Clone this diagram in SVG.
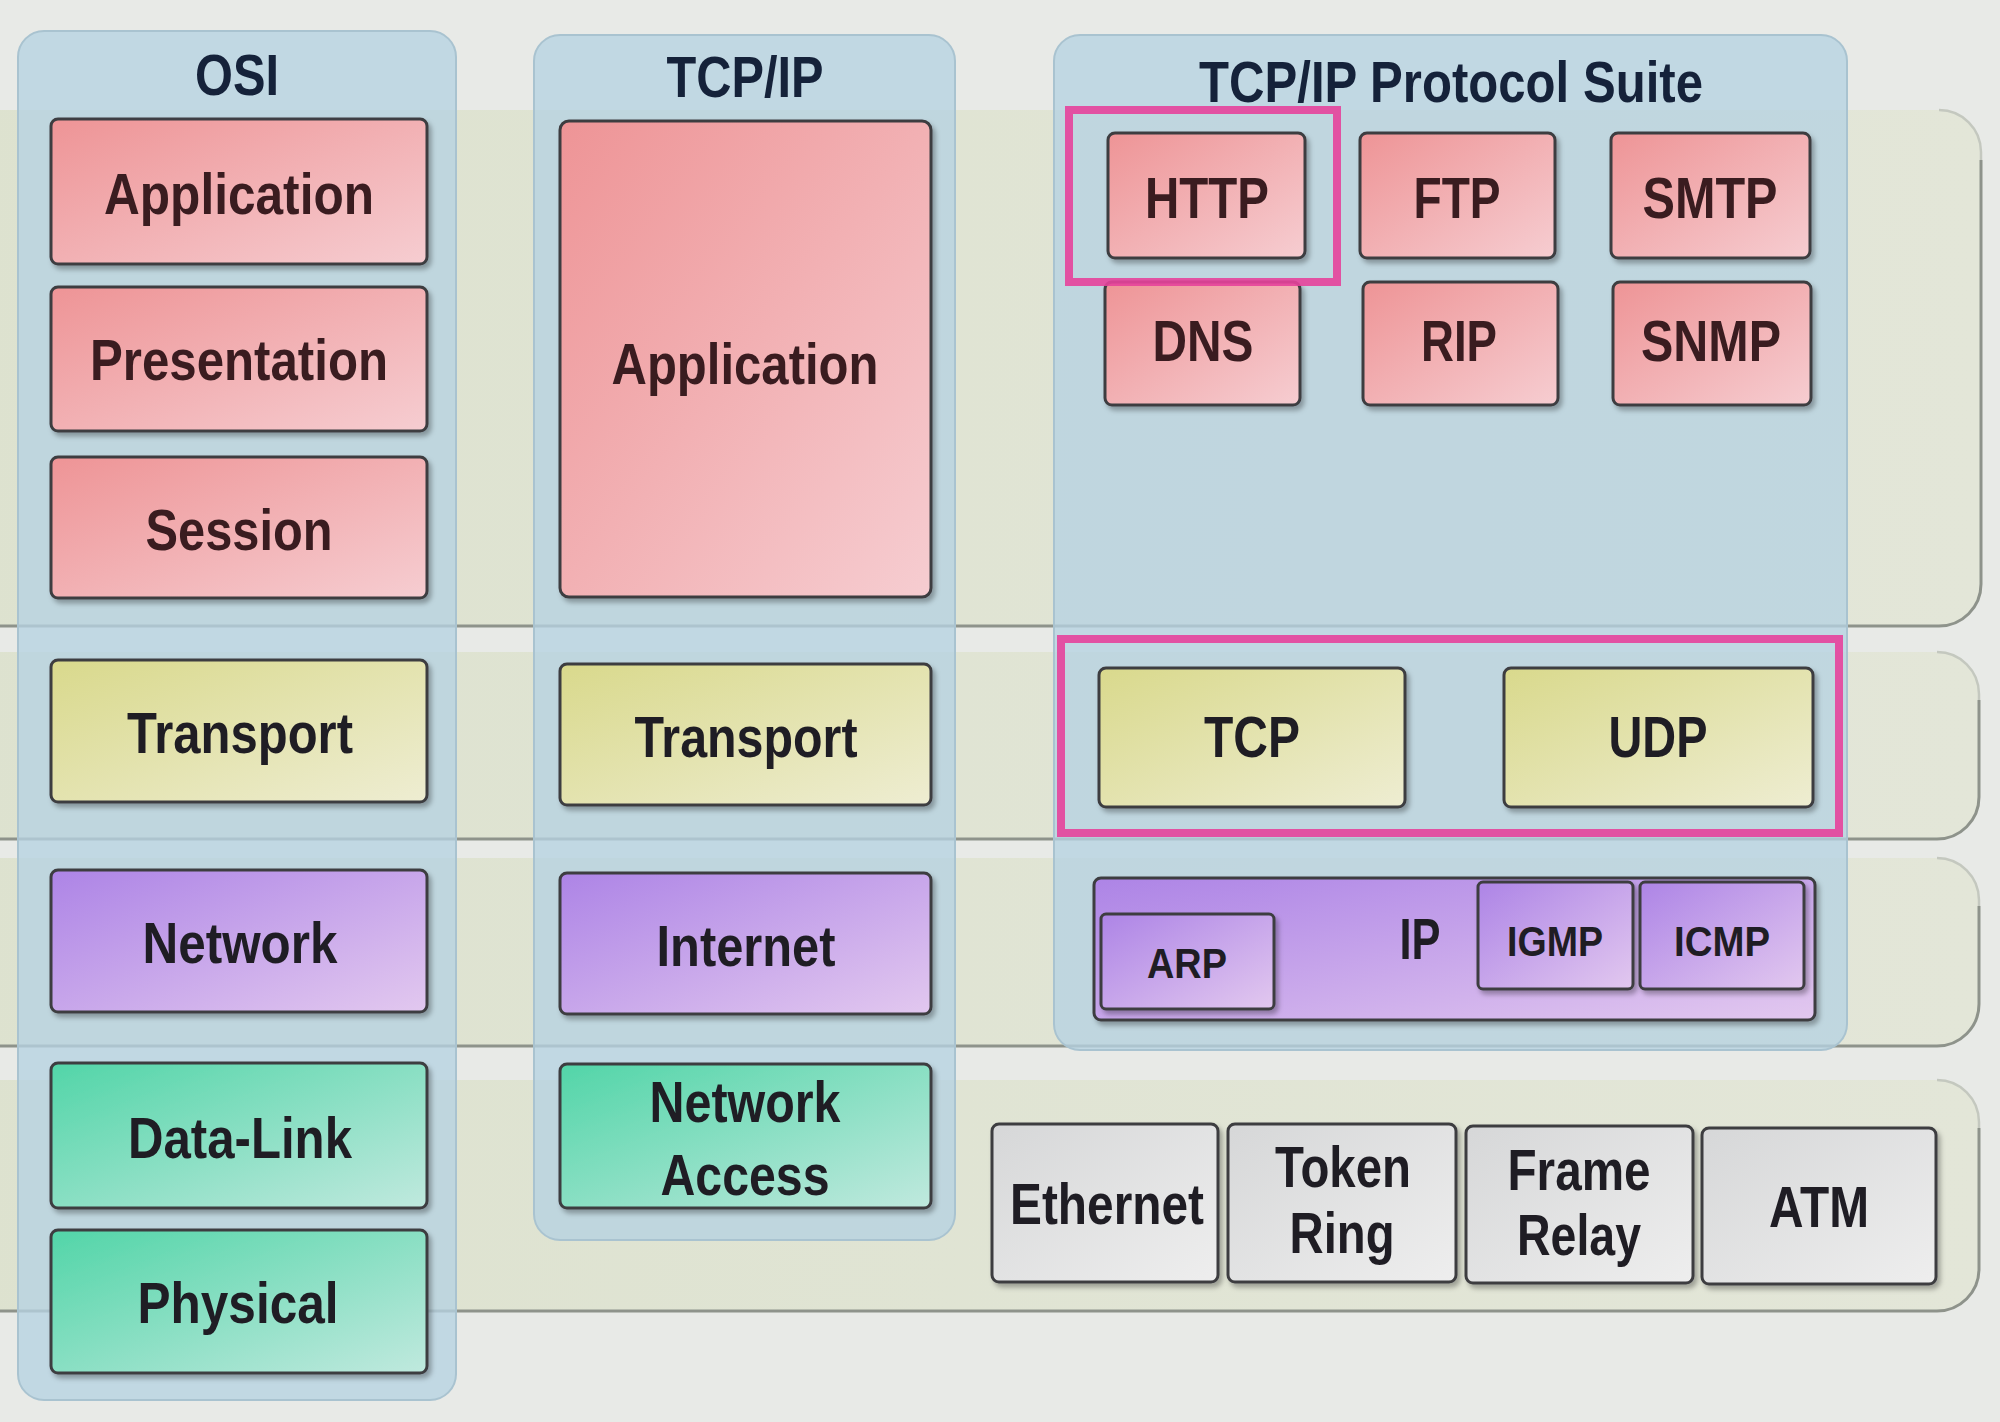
<svg xmlns="http://www.w3.org/2000/svg" width="2000" height="1422" viewBox="0 0 2000 1422">
<defs>
<linearGradient id="gRed" x1="0" y1="0" x2="1" y2="1"><stop offset="0" stop-color="#ee9496"/><stop offset="1" stop-color="#f6cdd1"/></linearGradient>
<linearGradient id="gYel" x1="0" y1="0" x2="1" y2="1"><stop offset="0" stop-color="#d9d98c"/><stop offset="1" stop-color="#eeedd2"/></linearGradient>
<linearGradient id="gPur" x1="0" y1="0" x2="1" y2="1"><stop offset="0" stop-color="#ad84e6"/><stop offset="1" stop-color="#e2c8ef"/></linearGradient>
<linearGradient id="gGrn" x1="0" y1="0" x2="1" y2="1"><stop offset="0" stop-color="#52d5a8"/><stop offset="1" stop-color="#c0e9de"/></linearGradient>
<linearGradient id="gGry" x1="0" y1="0" x2="1" y2="1"><stop offset="0" stop-color="#d6d7d8"/><stop offset="1" stop-color="#eeeeee"/></linearGradient>
<linearGradient id="gBand" x1="0" y1="0" x2="1" y2="0"><stop offset="0" stop-color="#dde2cf"/><stop offset="1" stop-color="#e3e6d8"/></linearGradient>
<filter id="sh" x="-10%" y="-10%" width="130%" height="130%"><feDropShadow dx="3" dy="4" stdDeviation="2.5" flood-color="#000" flood-opacity="0.3"/></filter>
</defs>
<style>
.band{fill:url(#gBand)}
.edge{fill:none;stroke:#8e938b;stroke-width:3}
.edge2{fill:none;stroke:#c4c8bf;stroke-width:2.5}
.panel{fill:#b6d2e2;fill-opacity:0.78;stroke:#a9c3d0;stroke-width:2}
.box{stroke:#3c3c40;stroke-width:3;filter:url(#sh)}
.red{fill:url(#gRed)}
.yel{fill:url(#gYel)}
.pur{fill:url(#gPur)}
.grn{fill:url(#gGrn)}
.gry{fill:url(#gGry)}
.hl{fill:none;stroke:#e6439b;stroke-width:8;stroke-opacity:0.9}
.t{font-family:"Liberation Sans",Arial,sans-serif;font-weight:bold;font-size:57px;fill:#1f1d24;text-anchor:middle}
.tr{fill:#3a1c20}
.ts{font-size:43px}
.ti{fill:#15223a}
</style>
<rect x="0" y="0" width="2000" height="1422" fill="#e8eae7"/>
<g id="bands">
<rect class="band" x="-60" y="110" width="2041" height="516" rx="42"/>
<path class="edge" d="M0 626 H1939 A42 42 0 0 0 1981 584 V160"/>
<path class="edge2" d="M1981 160 V152 A42 42 0 0 0 1939 110"/>
<rect class="band" x="-60" y="652" width="2039" height="187" rx="42"/>
<path class="edge" d="M0 839 H1937 A42 42 0 0 0 1979 797 V700"/>
<path class="edge2" d="M1979 700 V694 A42 42 0 0 0 1937 652"/>
<rect class="band" x="-60" y="858" width="2039" height="188" rx="42"/>
<path class="edge" d="M0 1046 H1937 A42 42 0 0 0 1979 1004 V906"/>
<path class="edge2" d="M1979 906 V900 A42 42 0 0 0 1937 858"/>
<rect class="band" x="-60" y="1080" width="2039" height="231" rx="42"/>
<path class="edge" d="M0 1311 H1937 A42 42 0 0 0 1979 1269 V1128"/>
<path class="edge2" d="M1979 1128 V1122 A42 42 0 0 0 1937 1080"/>
</g>
<g id="panel-osi"><rect class="panel" x="18" y="31" width="438" height="1369" rx="26"/><text class="t ti" x="237" y="95" textLength="84" lengthAdjust="spacingAndGlyphs">OSI</text></g>
<g id="panel-tcpip"><rect class="panel" x="534" y="35" width="421" height="1205" rx="26"/><text class="t ti" x="745" y="97" textLength="157" lengthAdjust="spacingAndGlyphs">TCP/IP</text></g>
<g id="panel-suite"><rect class="panel" x="1054" y="35" width="793" height="1015" rx="26"/><text class="t ti" x="1451" y="102" textLength="504" lengthAdjust="spacingAndGlyphs">TCP/IP Protocol Suite</text></g>

<g id="osi-application"><rect class="box red" x="51" y="119" width="376" height="145" rx="7"/><text class="t tr" x="239" y="214" textLength="270" lengthAdjust="spacingAndGlyphs">Application</text></g>
<g id="osi-presentation"><rect class="box red" x="51" y="287" width="376" height="144" rx="7"/><text class="t tr" x="239" y="380" textLength="298" lengthAdjust="spacingAndGlyphs">Presentation</text></g>
<g id="osi-session"><rect class="box red" x="51" y="457" width="376" height="141" rx="7"/><text class="t tr" x="239" y="550" textLength="187" lengthAdjust="spacingAndGlyphs">Session</text></g>
<g id="osi-transport"><rect class="box yel" x="51" y="660" width="376" height="142" rx="7"/><text class="t" x="240" y="753" textLength="226" lengthAdjust="spacingAndGlyphs">Transport</text></g>
<g id="osi-network"><rect class="box pur" x="51" y="870" width="376" height="142" rx="7"/><text class="t" x="240" y="963" textLength="195" lengthAdjust="spacingAndGlyphs">Network</text></g>
<g id="osi-datalink"><rect class="box grn" x="51" y="1063" width="376" height="145" rx="7"/><text class="t" x="240" y="1158" textLength="224" lengthAdjust="spacingAndGlyphs">Data-Link</text></g>
<g id="osi-physical"><rect class="box grn" x="51" y="1230" width="376" height="143" rx="7"/><text class="t" x="238" y="1323" textLength="201" lengthAdjust="spacingAndGlyphs">Physical</text></g>

<g id="tcpip-application"><rect class="box red" x="560" y="121" width="371" height="476" rx="9"/><text class="t tr" x="745" y="384" textLength="267" lengthAdjust="spacingAndGlyphs">Application</text></g>
<g id="tcpip-transport"><rect class="box yel" x="560" y="664" width="371" height="141" rx="7"/><text class="t" x="746" y="757" textLength="223" lengthAdjust="spacingAndGlyphs">Transport</text></g>
<g id="tcpip-internet"><rect class="box pur" x="560" y="873" width="371" height="141" rx="7"/><text class="t" x="746" y="966" textLength="179" lengthAdjust="spacingAndGlyphs">Internet</text></g>
<g id="tcpip-netaccess"><rect class="box grn" x="560" y="1064" width="371" height="144" rx="7"/><text class="t" x="745" y="1122" textLength="191" lengthAdjust="spacingAndGlyphs">Network</text><text class="t" x="745" y="1195" textLength="169" lengthAdjust="spacingAndGlyphs">Access</text></g>

<g id="http"><rect class="box red" x="1108" y="133" width="197" height="125" rx="7"/><text class="t tr" x="1207" y="218" textLength="124" lengthAdjust="spacingAndGlyphs">HTTP</text></g>
<g id="ftp"><rect class="box red" x="1360" y="133" width="195" height="125" rx="7"/><text class="t tr" x="1457" y="218" textLength="87" lengthAdjust="spacingAndGlyphs">FTP</text></g>
<g id="smtp"><rect class="box red" x="1611" y="133" width="199" height="125" rx="7"/><text class="t tr" x="1710" y="218" textLength="135" lengthAdjust="spacingAndGlyphs">SMTP</text></g>
<g id="dns"><rect class="box red" x="1105" y="282" width="195" height="123" rx="7"/><text class="t tr" x="1203" y="361" textLength="101" lengthAdjust="spacingAndGlyphs">DNS</text></g>
<g id="rip"><rect class="box red" x="1363" y="282" width="195" height="123" rx="7"/><text class="t tr" x="1459" y="361" textLength="76" lengthAdjust="spacingAndGlyphs">RIP</text></g>
<g id="snmp"><rect class="box red" x="1613" y="282" width="198" height="123" rx="7"/><text class="t tr" x="1711" y="361" textLength="140" lengthAdjust="spacingAndGlyphs">SNMP</text></g>
<g id="http-highlight"><rect class="hl" x="1069" y="110" width="268" height="172"/></g>

<g id="tcp"><rect class="box yel" x="1099" y="668" width="306" height="139" rx="7"/><text class="t" x="1252" y="757" textLength="96" lengthAdjust="spacingAndGlyphs">TCP</text></g>
<g id="udp"><rect class="box yel" x="1504" y="668" width="309" height="139" rx="7"/><text class="t" x="1658" y="757" textLength="99" lengthAdjust="spacingAndGlyphs">UDP</text></g>
<g id="transport-highlight"><rect class="hl" x="1061" y="639" width="778" height="194"/></g>

<g id="ip"><rect class="box pur" x="1094" y="878" width="721" height="142" rx="7"/><text class="t" x="1420" y="959" textLength="41" lengthAdjust="spacingAndGlyphs">IP</text></g>
<g id="arp"><rect class="box pur" x="1101" y="914" width="173" height="95" rx="5"/><text class="t ts" x="1187" y="978" textLength="80" lengthAdjust="spacingAndGlyphs">ARP</text></g>
<g id="igmp"><rect class="box pur" x="1478" y="882" width="155" height="107" rx="5"/><text class="t ts" x="1555" y="956" textLength="96" lengthAdjust="spacingAndGlyphs">IGMP</text></g>
<g id="icmp"><rect class="box pur" x="1640" y="882" width="164" height="107" rx="5"/><text class="t ts" x="1722" y="956" textLength="96" lengthAdjust="spacingAndGlyphs">ICMP</text></g>

<g id="ethernet"><rect class="box gry" x="992" y="1124" width="226" height="158" rx="7"/><text class="t" x="1107" y="1224" textLength="194" lengthAdjust="spacingAndGlyphs">Ethernet</text></g>
<g id="tokenring"><rect class="box gry" x="1228" y="1124" width="228" height="158" rx="7"/><text class="t" x="1343" y="1187" textLength="136" lengthAdjust="spacingAndGlyphs">Token</text><text class="t" x="1342" y="1253" textLength="105" lengthAdjust="spacingAndGlyphs">Ring</text></g>
<g id="framerelay"><rect class="box gry" x="1466" y="1126" width="227" height="157" rx="7"/><text class="t" x="1579" y="1190" textLength="143" lengthAdjust="spacingAndGlyphs">Frame</text><text class="t" x="1579" y="1255" textLength="124" lengthAdjust="spacingAndGlyphs">Relay</text></g>
<g id="atm"><rect class="box gry" x="1702" y="1128" width="234" height="156" rx="7"/><text class="t" x="1819" y="1227" textLength="100" lengthAdjust="spacingAndGlyphs">ATM</text></g>
<g id="connectors"></g>
</svg>
